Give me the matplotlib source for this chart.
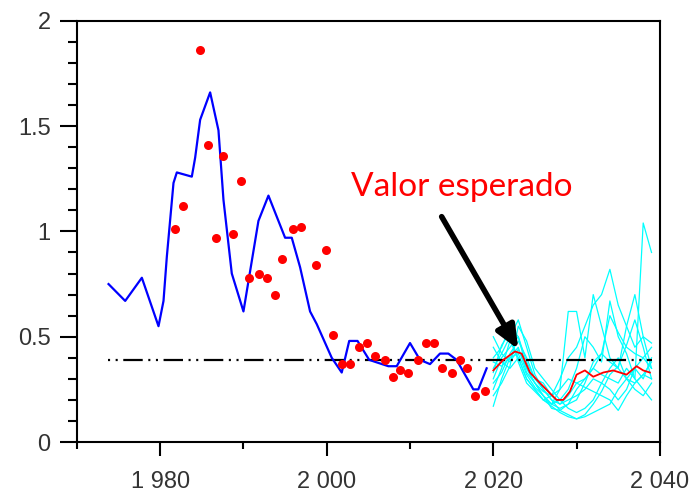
import matplotlib
matplotlib.use("Agg")
import matplotlib.pyplot as plt
from matplotlib.ticker import FixedLocator, FuncFormatter, MultipleLocator

# smoothed history (blue)
hist_years = [1973.8, 1975.8, 1977.8, 1979.8, 1980.4, 1980.8, 1981.6, 1982.0, 1983.8, 1984.2,
              1984.8, 1986.0, 1987.0, 1987.6, 1988.6, 1990.0, 1991.8, 1993.0, 1995.0, 1995.8,
              1996.8, 1998.0, 1998.8, 2000.6, 2001.8, 2002.7, 2003.7, 2005.1, 2007.4, 2008.4,
              2010.0, 2011.2, 2012.4, 2013.6, 2014.6, 2015.6, 2017.6, 2018.2, 2019.2]
hist_values = [0.75, 0.67, 0.78, 0.55, 0.67, 0.88, 1.23, 1.28, 1.26, 1.35,
               1.53, 1.66, 1.48, 1.15, 0.80, 0.62, 1.05, 1.17, 0.97, 0.97,
               0.83, 0.62, 0.56, 0.40, 0.33, 0.48, 0.48, 0.39, 0.36, 0.36,
               0.47, 0.39, 0.37, 0.42, 0.42, 0.39, 0.25, 0.25, 0.35]

# observations (red dots)
obs_years = [1981.8, 1982.7, 1984.8, 1985.8, 1986.7, 1987.6, 1988.8, 1989.7, 1990.7, 1991.9,
             1992.8, 1993.8, 1994.6, 1995.9, 1996.9, 1998.7, 1999.9, 2000.8, 2001.8, 2002.8,
             2003.9, 2004.8, 2005.8, 2007.0, 2007.9, 2008.8, 2009.8, 2011.0, 2011.9, 2012.9,
             2013.8, 2015.0, 2016.0, 2016.9, 2017.8, 2019.0]
obs_values = [1.01, 1.12, 1.86, 1.41, 0.97, 1.36, 0.99, 1.24, 0.78, 0.80,
              0.78, 0.70, 0.87, 1.01, 1.02, 0.84, 0.91, 0.51, 0.37, 0.37,
              0.45, 0.47, 0.41, 0.39, 0.31, 0.34, 0.33, 0.39, 0.47, 0.47,
              0.35, 0.33, 0.39, 0.35, 0.22, 0.24]

# long-term level (dash-dot line)
level = 0.39
level_span = [1973.7, 2039.0]

# simulated paths (cyan)
sim_years = list(range(2020, 2040))
sim_a = [0.30, 0.40, 0.45, 0.50, 0.38, 0.30, 0.25, 0.20, 0.18, 0.22, 0.28, 0.30, 0.35, 0.32, 0.30, 0.28, 0.35, 0.30, 1.04, 0.90]
sim_b = [0.25, 0.35, 0.48, 0.40, 0.30, 0.25, 0.20, 0.22, 0.30, 0.40, 0.45, 0.55, 0.65, 0.70, 0.82, 0.65, 0.55, 0.45, 0.50, 0.47]
sim_c = [0.40, 0.45, 0.55, 0.50, 0.35, 0.28, 0.22, 0.18, 0.25, 0.62, 0.62, 0.40, 0.70, 0.55, 0.40, 0.35, 0.30, 0.35, 0.30, 0.40]
sim_d = [0.17, 0.30, 0.40, 0.45, 0.33, 0.28, 0.22, 0.16, 0.15, 0.13, 0.11, 0.12, 0.14, 0.16, 0.18, 0.25, 0.30, 0.28, 0.32, 0.30]
sim_e = [0.35, 0.42, 0.50, 0.58, 0.45, 0.32, 0.25, 0.20, 0.15, 0.18, 0.25, 0.30, 0.35, 0.42, 0.38, 0.35, 0.55, 0.70, 0.50, 0.35]
sim_f = [0.45, 0.38, 0.35, 0.40, 0.30, 0.25, 0.20, 0.18, 0.20, 0.25, 0.35, 0.50, 0.45, 0.38, 0.67, 0.50, 0.42, 0.30, 0.25, 0.20]
sim_g = [0.28, 0.33, 0.42, 0.48, 0.40, 0.30, 0.28, 0.22, 0.18, 0.20, 0.22, 0.25, 0.30, 0.28, 0.25, 0.20, 0.25, 0.35, 0.40, 0.45]
sim_h = [0.50, 0.42, 0.38, 0.44, 0.35, 0.28, 0.24, 0.22, 0.25, 0.30, 0.28, 0.26, 0.24, 0.22, 0.20, 0.15, 0.22, 0.28, 0.32, 0.38]
sim_i = [0.22, 0.28, 0.36, 0.55, 0.48, 0.35, 0.30, 0.25, 0.20, 0.16, 0.14, 0.16, 0.20, 0.28, 0.35, 0.40, 0.30, 0.25, 0.22, 0.28]
sim_j = [0.38, 0.36, 0.40, 0.42, 0.32, 0.26, 0.22, 0.18, 0.16, 0.18, 0.20, 0.28, 0.38, 0.42, 0.60, 0.52, 0.45, 0.42, 0.40, 0.35]
sim_k = [0.33, 0.46, 0.52, 0.38, 0.28, 0.24, 0.20, 0.17, 0.14, 0.12, 0.11, 0.13, 0.18, 0.24, 0.32, 0.36, 0.46, 0.58, 0.45, 0.30]
sim_paths = [sim_a, sim_b, sim_c, sim_d, sim_e, sim_f, sim_g, sim_h, sim_i, sim_j, sim_k]

# expected value (red line)
mean_years = [2020.0, 2021.2, 2022.6, 2023.4, 2024.4, 2025.6, 2026.6, 2027.6, 2028.4, 2029.2,
              2030.0, 2031.0, 2032.0, 2033.2, 2034.4, 2036.0, 2037.2, 2038.0, 2038.8]
mean_values = [0.34, 0.39, 0.43, 0.42, 0.33, 0.28, 0.24, 0.20, 0.20, 0.24,
               0.32, 0.34, 0.31, 0.33, 0.34, 0.32, 0.36, 0.34, 0.33]

label_text = "Valor esperado"
arrow_tail = (2013.8, 1.07)
arrow_head = (2023.0, 0.44)


def main() -> None:
    plt.rcParams['lines.scale_dashes'] = False
    fig = plt.figure(figsize=(6.99, 4.95), dpi=100)
    ax = fig.add_axes([0.110, 0.107, 0.834, 0.851])

    for path in sim_paths:
        ax.plot(sim_years, path, color='#00ffff', lw=0.9, zorder=2)

    ax.plot(level_span, [level, level], color='black', lw=1.6,
            linestyle=(0, (1.5, 4, 1.5, 4, 14, 4)), zorder=3)

    ax.plot(hist_years, hist_values, color='#0000ff', lw=1.6, zorder=4)
    ax.plot(obs_years, obs_values, 'o', color='#ff0000', markersize=6.5,
            markeredgewidth=0, zorder=5)
    ax.plot(mean_years, mean_values, color='#ff0000', lw=1.3, zorder=4)

    ax.annotate('', xy=arrow_head, xytext=arrow_tail,
                arrowprops=dict(arrowstyle='-|>,head_length=0.7,head_width=0.3',
                                color='black', lw=4, mutation_scale=20,
                                shrinkA=0, shrinkB=0), zorder=6)
    ax.text(2002.9, 1.17, label_text, color='#ff0000', fontsize=24,
            family=['Lato', 'DejaVu Sans'], ha='left', va='baseline', zorder=6)

    # axes formatting
    ax.set_xlim(1970, 2040)
    ax.set_ylim(0, 2)
    ax.xaxis.set_major_locator(FixedLocator([1980, 2000, 2020, 2040]))
    ax.xaxis.set_minor_locator(MultipleLocator(10))
    ax.yaxis.set_major_locator(MultipleLocator(0.5))
    ax.yaxis.set_minor_locator(MultipleLocator(0.1))
    ax.xaxis.set_major_formatter(FuncFormatter(lambda v, p: f"{int(v):,}".replace(',', ' ')))
    ax.yaxis.set_major_formatter(FuncFormatter(lambda v, p: f"{v:g}"))

    ax.tick_params(axis='x', which='major', direction='out', length=10, width=1.5,
                   pad=11, labelsize=17, labelcolor='#333333')
    ax.tick_params(axis='x', which='minor', direction='out', length=5, width=1.5)
    ax.tick_params(axis='y', which='major', direction='out', length=12, width=1.5,
                   pad=7, labelsize=17, labelcolor='#333333')
    ax.tick_params(axis='y', which='minor', direction='out', length=6.5, width=1.5)
    for spine in ax.spines.values():
        spine.set_linewidth(1.5)
    for lbl in ax.get_xticklabels() + ax.get_yticklabels():
        lbl.set_family(['Liberation Sans', 'DejaVu Sans'])

    fig.savefig('out.png', dpi=100)


if __name__ == "__main__":
    main()
